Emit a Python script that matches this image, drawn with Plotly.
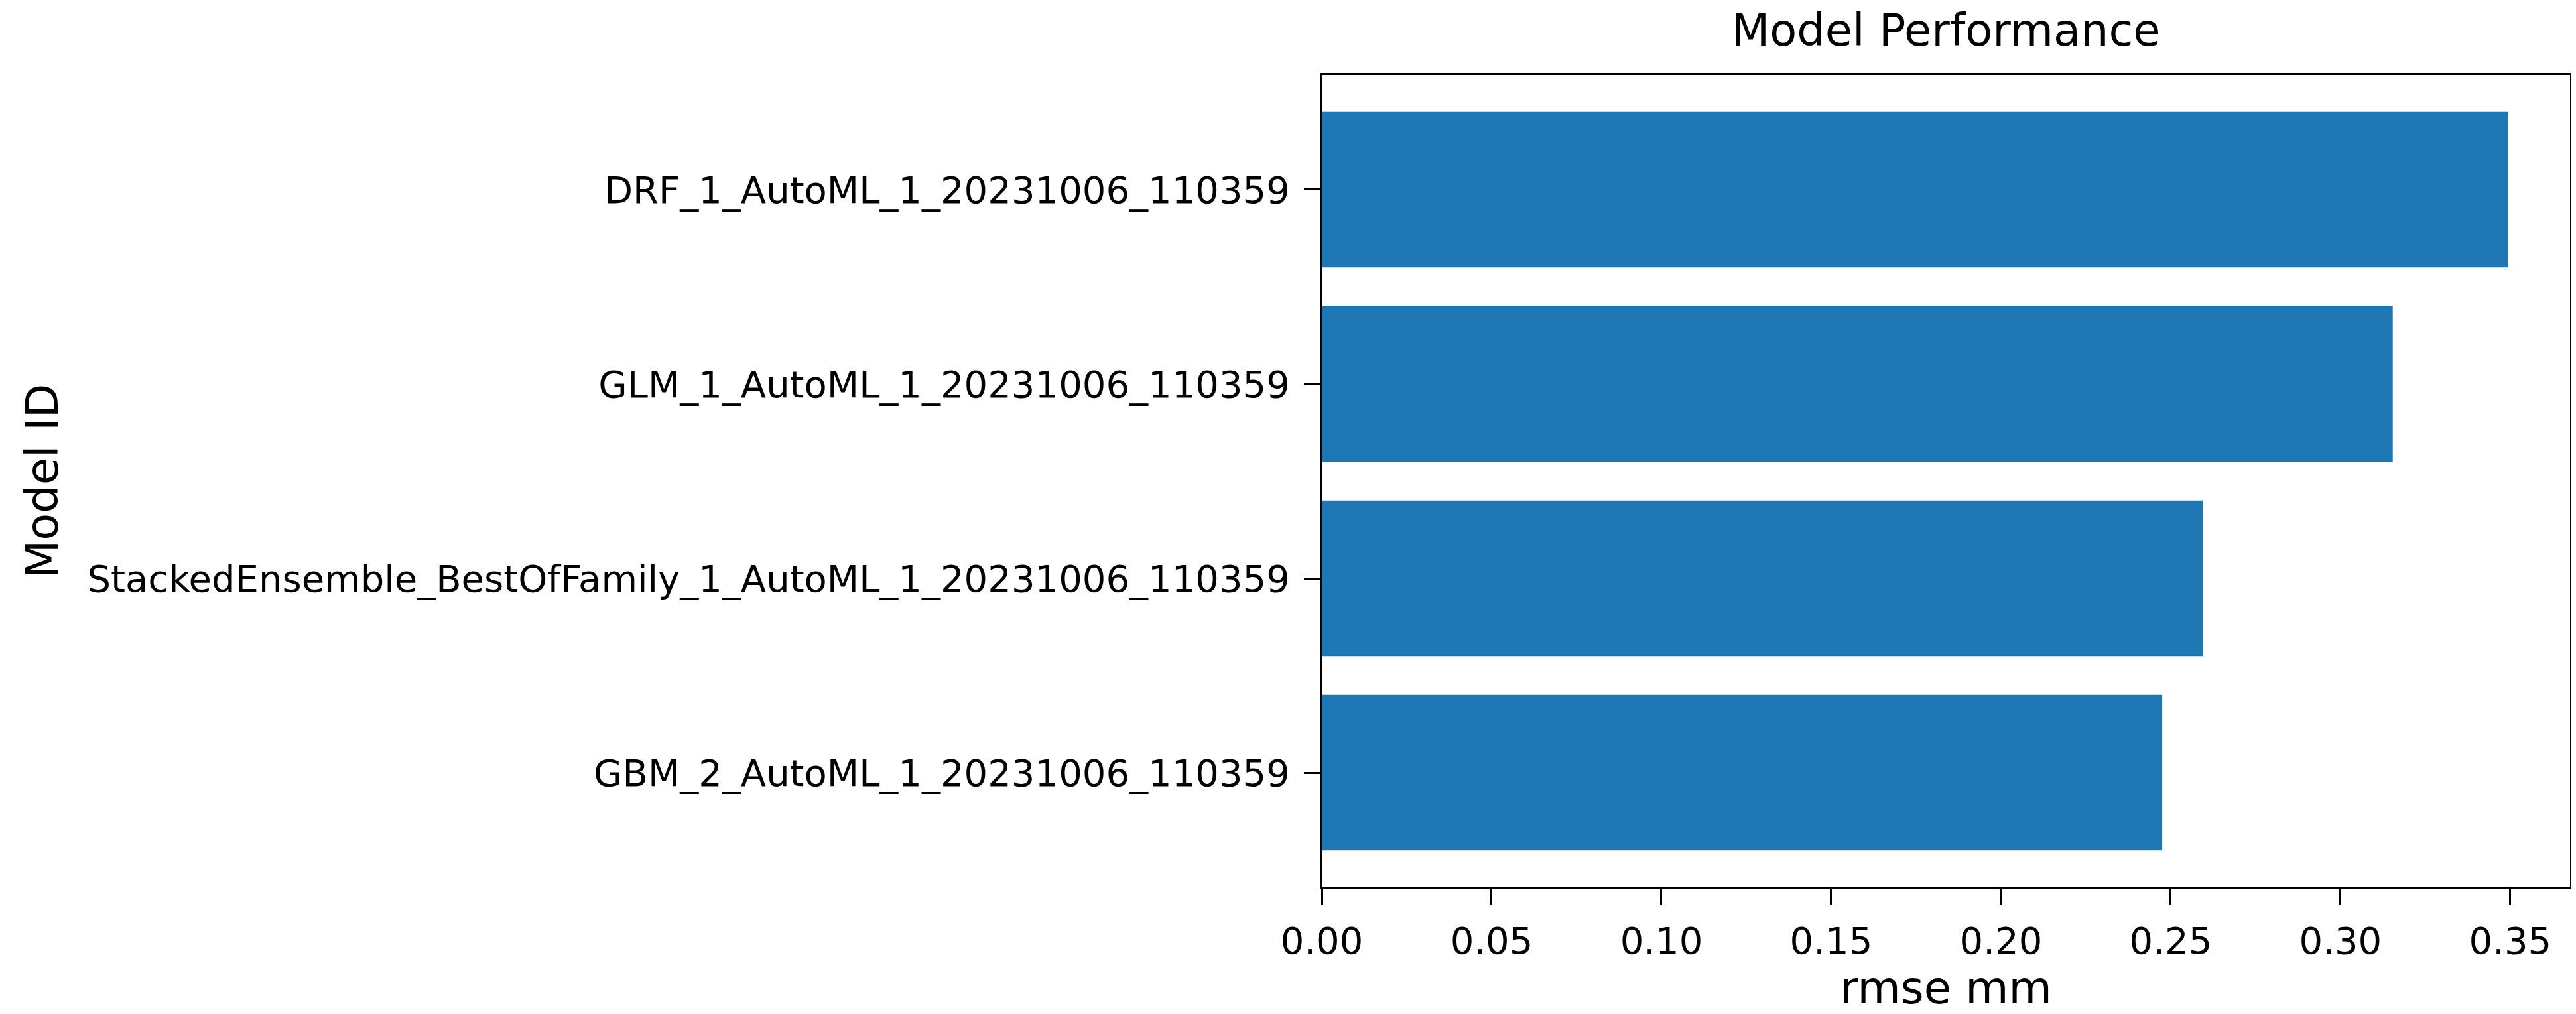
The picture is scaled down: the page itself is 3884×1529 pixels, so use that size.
import plotly.graph_objects as go

# Data (bottom to top, as in the reference)
model_ids = [
    "GBM_2_AutoML_1_20231006_110359",
    "StackedEnsemble_BestOfFamily_1_AutoML_1_20231006_110359",
    "GLM_1_AutoML_1_20231006_110359",
    "DRF_1_AutoML_1_20231006_110359",
]
rmse_values = [0.2475, 0.2594, 0.3154, 0.3494]
x_tick_vals = [0.00, 0.05, 0.10, 0.15, 0.20, 0.25, 0.30, 0.35]
x_tick_text = ["0.00", "0.05", "0.10", "0.15", "0.20", "0.25", "0.30", "0.35"]

W, H = 3884, 1529
L, R, T, B = 1985, 17, 105, 199
FONT = "DejaVu Sans"

fig = go.Figure(
    go.Bar(
        x=rmse_values,
        y=model_ids,
        orientation="h",
        marker=dict(color="#1f77b4", line=dict(width=0)),
    )
)

fig.update_layout(
    width=W,
    height=H,
    margin=dict(l=L, r=R, t=T, b=B, pad=0),
    paper_bgcolor="white",
    plot_bgcolor="white",
    bargap=0.2,
    showlegend=False,
    font=dict(family=FONT, size=56, color="black"),
    title=dict(
        text="Model Performance",
        font=dict(family=FONT, size=67, color="black"),
        x=0.5,
        xref="paper",
        xanchor="center",
        y=1,
        yref="paper",
        yanchor="bottom",
        pad=dict(b=44),
    ),
)

fig.update_xaxes(
    range=[0, 0.3676],
    tickvals=x_tick_vals,
    ticktext=x_tick_text,
    showgrid=False,
    zeroline=False,
    showline=True,
    mirror=True,
    linecolor="black",
    linewidth=3,
    ticks="outside",
    ticklen=24,
    tickwidth=3,
    tickcolor="black",
    tickfont=dict(family=FONT, size=56, color="black"),
    ticklabelstandoff=6,
    title=dict(text="rmse mm", font=dict(family=FONT, size=67, color="black"), standoff=11),
)

fig.update_yaxes(
    range=[-0.59, 3.59],
    categoryorder="array",
    categoryarray=model_ids,
    showgrid=False,
    zeroline=False,
    showline=True,
    mirror=True,
    linecolor="black",
    linewidth=3,
    ticks="outside",
    ticklen=24,
    tickwidth=3,
    tickcolor="black",
    tickfont=dict(family=FONT, size=56, color="black"),
    ticklabelstandoff=10,
)

fig.add_annotation(
    text="Model ID",
    textangle=-90,
    xref="paper",
    yref="paper",
    x=(55 - L) / (W - L - R),
    y=0.5,
    xanchor="center",
    yanchor="middle",
    showarrow=False,
    font=dict(family=FONT, size=67, color="black"),
)

fig.write_html("out.html")
